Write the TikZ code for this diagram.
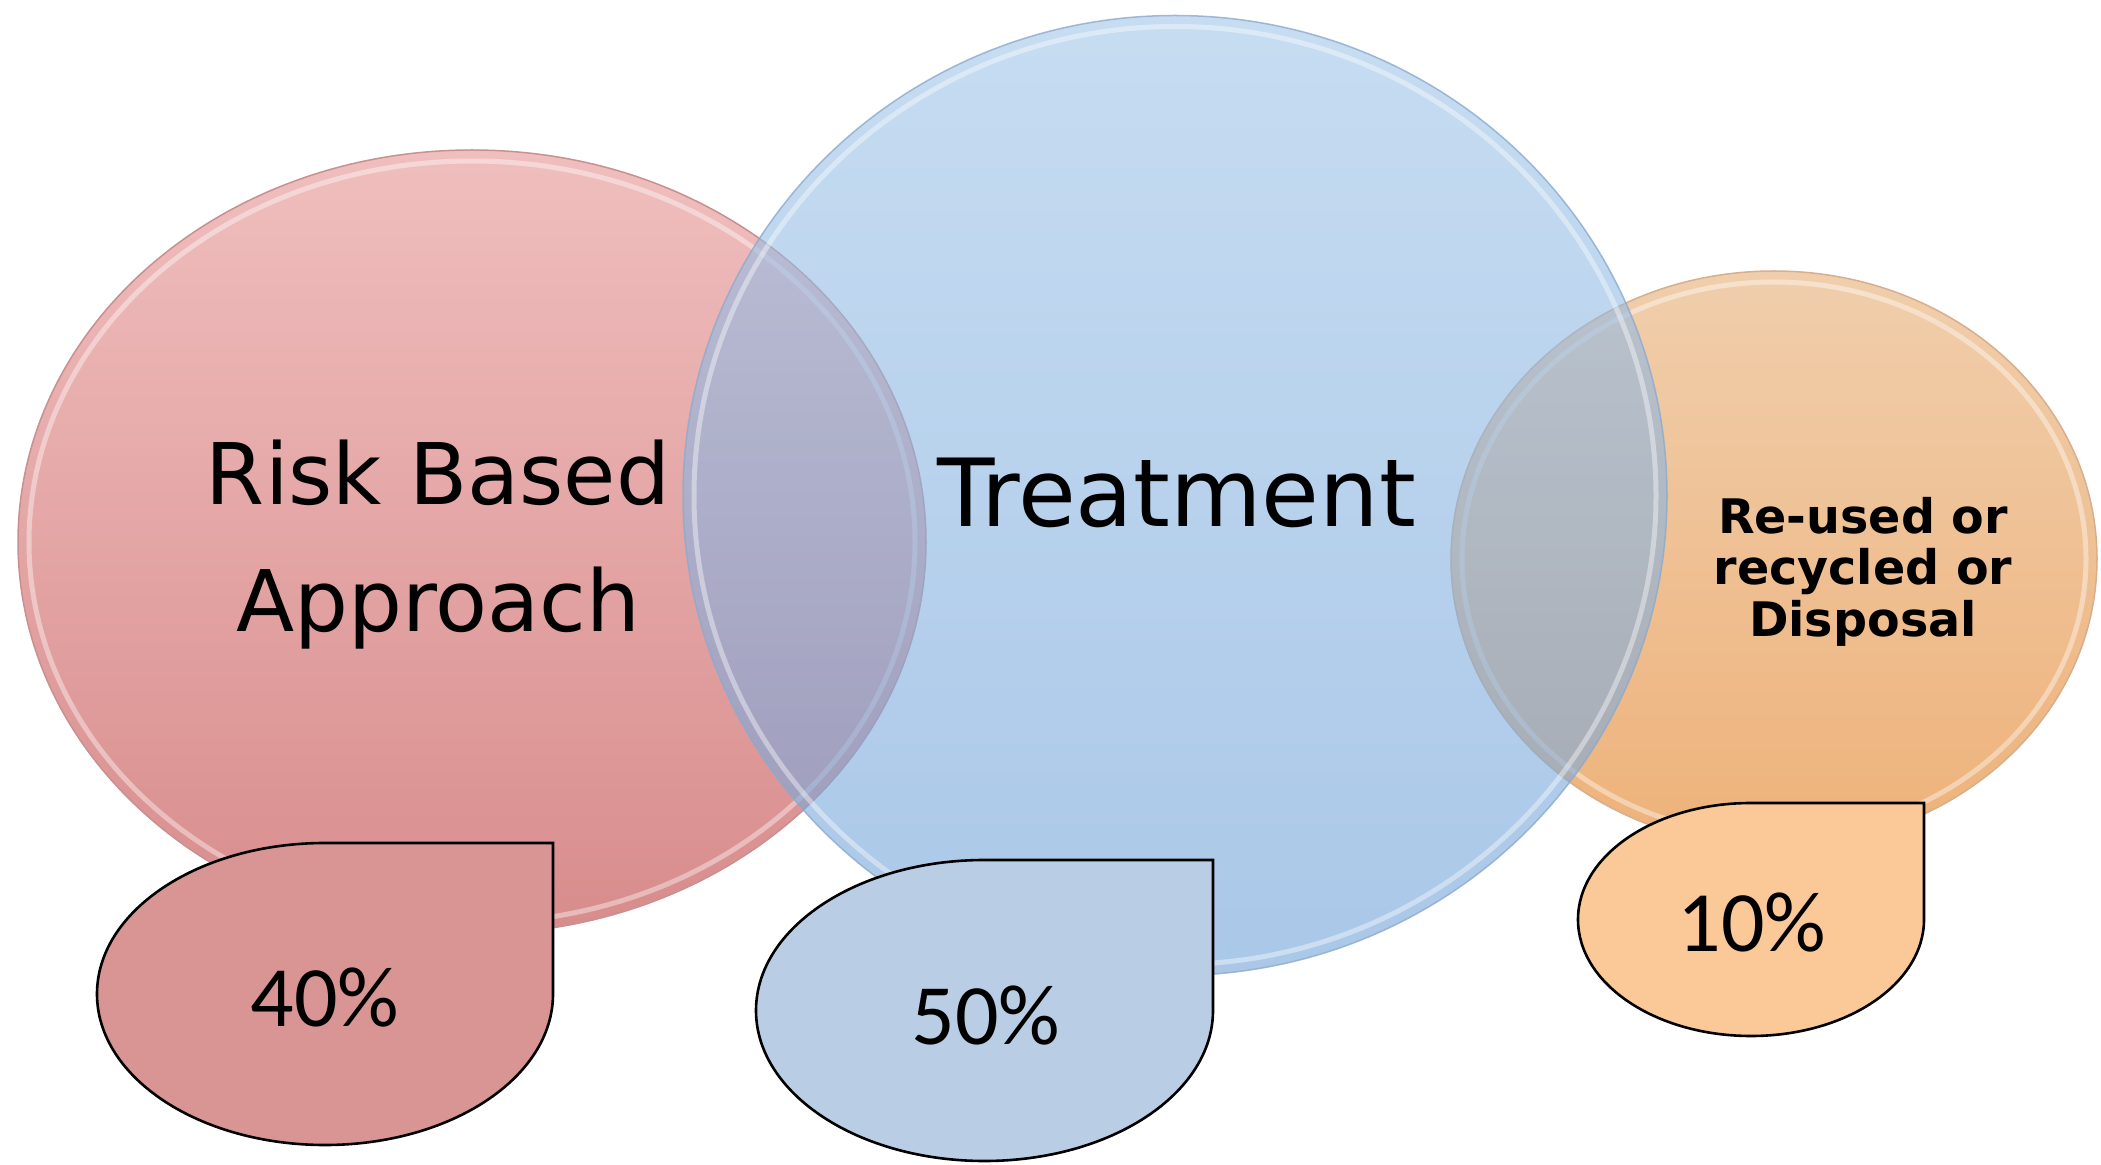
\documentclass[tikz,border=0pt]{standalone}
\usepackage{fontspec}
\setmainfont{DejaVu Sans}
\newfontfamily\pctfont{Carlito}
\usetikzlibrary{shapes.geometric, positioning}

\definecolor{riskTop}{RGB}{240,190,190}
\definecolor{riskBottom}{RGB}{216,140,140}
\definecolor{riskEdge}{RGB}{200,145,145}
\definecolor{riskDrop}{RGB}{217,149,148}
\definecolor{treatTop}{RGB}{160,197,232}
\definecolor{treatBottom}{RGB}{113,162,217}
\definecolor{treatEdge}{RGB}{140,170,205}
\definecolor{treatDrop}{RGB}{185,205,229}
\definecolor{reuseTop}{RGB}{240,206,172}
\definecolor{reuseBottom}{RGB}{238,178,122}
\definecolor{reuseEdge}{RGB}{215,175,140}
\definecolor{reuseDrop}{RGB}{251,201,151}

\begin{document}
\begin{tikzpicture}[
    x=0.5pt, y=0.5pt,
    bubble/.style={ellipse, inner sep=0pt, outer sep=0pt, line width=0.75pt},
    rim/.style={draw=white, line width=2.5pt, opacity=0.4},
    drop/.style={draw=black, line width=1.3pt},
    bigtext/.style={font=\fontsize{42.5}{63.5}\selectfont, align=center, inner sep=0pt},
    pct/.style={font=\pctfont\fontsize{43}{50}\selectfont, inner sep=0pt}
]
    \useasboundingbox (0,0) rectangle (2101,1164);

    % Circles
    \node[bubble, top color=riskTop, bottom color=riskBottom, draw=riskEdge,
          minimum width=454pt, minimum height=392pt] (risk) at (472,622) {};
    \draw[rim] (risk.center) ellipse[x radius=443, y radius=381];

    \node[bubble, top color=reuseTop, bottom color=reuseBottom, draw=reuseEdge,
          minimum width=323pt, minimum height=288pt] (reuse) at (1774,605) {};
    \draw[rim] (reuse.center) ellipse[x radius=312, y radius=277];

    \node[bubble, top color=treatTop, bottom color=treatBottom, fill opacity=0.6,
          draw=treatEdge, draw opacity=0.8,
          minimum width=492pt, minimum height=480pt] (treat) at (1175,668.5) {};
    \draw[rim] (treat.center) ellipse[x radius=481, y radius=469];

    % Labels
    \node[bigtext] (risk_txt) at (438,619.5) {Risk Based\\Approach};
    \node[bigtext, font=\fontsize{47}{50}\selectfont, anchor=base] (treat_txt) at (1177,637) {Treatment};
    \node[bigtext, font=\bfseries\fontsize{23.8}{25.8}\selectfont] (reuse_txt) at (1863,592.5)
        {Re-used or\\recycled or\\Disposal};

    % Percent callouts
    \coordinate (risk_tip) at (553,321);
    \draw[drop, fill=riskDrop] (risk_tip) -- ++(0,-151)
        arc[start angle=0, end angle=-270, x radius=228, y radius=151] -- cycle;
    \node[pct] (risk_pct) at (325,166) {40\%};

    \coordinate (treat_tip) at (1213,304);
    \draw[drop, fill=treatDrop] (treat_tip) -- ++(0,-150.5)
        arc[start angle=0, end angle=-270, x radius=228.5, y radius=150.5] -- cycle;
    \node[pct] (treat_pct) at (986,148) {50\%};

    \coordinate (reuse_tip) at (1924,361);
    \draw[drop, fill=reuseDrop] (reuse_tip) -- ++(0,-116.5)
        arc[start angle=0, end angle=-270, x radius=173, y radius=116.5] -- cycle;
    \node[pct] (reuse_pct) at (1752,241) {10\%};
\end{tikzpicture}
\end{document}
